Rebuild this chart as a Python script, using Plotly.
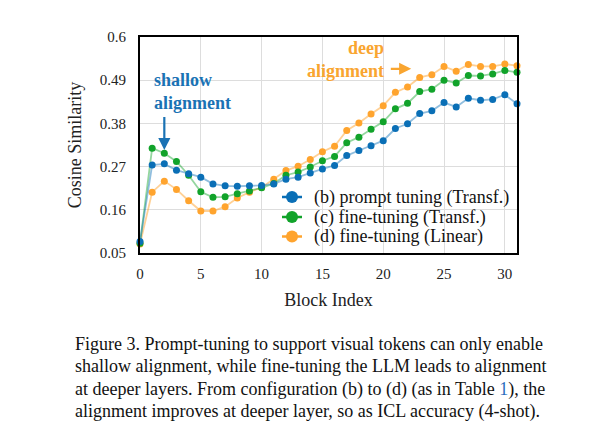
import plotly.graph_objects as go

block_index = list(range(32))
prompt_tuning_transf = [0.079, 0.274, 0.277, 0.261, 0.252, 0.243, 0.226, 0.221, 0.220, 0.221,
                        0.222, 0.226, 0.238, 0.243, 0.254, 0.264, 0.273, 0.298, 0.311, 0.323,
                        0.336, 0.367, 0.379, 0.405, 0.412, 0.433, 0.422, 0.444, 0.439, 0.441,
                        0.453, 0.430]
fine_tuning_transf = [0.075, 0.317, 0.304, 0.283, 0.248, 0.206, 0.192, 0.193, 0.201, 0.208,
                      0.216, 0.227, 0.248, 0.256, 0.269, 0.285, 0.296, 0.331, 0.345, 0.365,
                      0.384, 0.417, 0.431, 0.461, 0.467, 0.490, 0.483, 0.502, 0.501, 0.506,
                      0.515, 0.510]
fine_tuning_linear = [0.073, 0.205, 0.233, 0.212, 0.183, 0.157, 0.157, 0.168, 0.190, 0.205,
                      0.217, 0.238, 0.260, 0.271, 0.288, 0.308, 0.322, 0.362, 0.381, 0.404,
                      0.425, 0.459, 0.473, 0.497, 0.504, 0.525, 0.513, 0.530, 0.525, 0.525,
                      0.531, 0.527]
series_names = ["(b) prompt tuning (Transf.)", "(c) fine-tuning (Transf.)", "(d) fine-tuning (Linear)"]
x_ticks = [0, 5, 10, 15, 20, 25, 30]
y_ticks = [0.05, 0.16, 0.27, 0.38, 0.49, 0.6]
y_tick_labels = ["0.05", "0.16", "0.27", "0.38", "0.49", "0.6"]

colors = ["#0a6fb6", "#11a32a", "#ffa42e"]
line_colors = ["rgba(10,111,182,0.45)", "rgba(17,163,42,0.45)", "rgba(255,164,46,0.5)"]
SERIF = "Liberation Serif, Times New Roman, serif"

# plot-area geometry (pixels) used to place the hand-drawn legend and caption
L, R, T, B = 140, 517, 37, 253
W, H = R - L, B - T


def px_x(px):
    return (px - L) / W


def px_y(py):
    return (B - py) / H


fig = go.Figure()
data = [prompt_tuning_transf, fine_tuning_transf, fine_tuning_linear]
for idx in [2, 1, 0]:
    fig.add_trace(go.Scatter(
        x=block_index, y=data[idx], mode="lines+markers", name=series_names[idx],
        line=dict(color=line_colors[idx], width=1.8),
        marker=dict(color=colors[idx], size=7),
        showlegend=False, cliponaxis=False))

# legend (drawn manually for tight row spacing)
legend_rows = [197, 217, 236.5]
for idx, py in enumerate(legend_rows):
    fig.add_shape(type="line", xref="paper", yref="paper", x0=px_x(282), x1=px_x(302),
                  y0=px_y(py), y1=px_y(py), line=dict(color=colors[idx], width=2.5))
    fig.add_shape(type="circle", xref="paper", yref="paper", xsizemode="pixel",
                  ysizemode="pixel", xanchor=px_x(292), yanchor=px_y(py),
                  x0=-6, x1=6, y0=-6, y1=6, fillcolor=colors[idx],
                  line=dict(color=colors[idx], width=0))
    fig.add_annotation(x=px_x(312), y=px_y(py), xref="paper", yref="paper",
                       text=series_names[idx], showarrow=False, xanchor="left",
                       yanchor="middle", font=dict(family=SERIF, size=18, color="#111"))

fig.add_annotation(x=1.0, y=0.462, xref="x", yref="y", text="<b>shallow<br>alignment</b>",
                   showarrow=False, xanchor="left", yanchor="middle", align="left",
                   font=dict(family=SERIF, size=18, color="#1a72b4"))
fig.add_annotation(x=2, y=0.312, ax=2, ay=0.40, xref="x", yref="y", axref="x", ayref="y",
                   text="", showarrow=True, arrowhead=2, arrowsize=1.1, arrowwidth=2.2,
                   arrowcolor="#1a72b4")
fig.add_annotation(x=20.2, y=0.543, xref="x", yref="y", text="<b>deep<br>alignment</b>",
                   showarrow=False, xanchor="right", yanchor="middle", align="right",
                   font=dict(family=SERIF, size=18, color="#f9a530"))
fig.add_annotation(x=22.3, y=0.519, ax=20.5, ay=0.519, xref="x", yref="y", axref="x", ayref="y",
                   text="", showarrow=True, arrowhead=2, arrowsize=1.1, arrowwidth=2.2,
                   arrowcolor="#f9a530")

caption_lines = [
    "Figure 3. Prompt-tuning to support visual tokens can only enable",
    "shallow alignment, while fine-tuning the LLM leads to alignment",
    "at deeper layers. From configuration (b) to (d) (as in Table <span style='color:#2a6ebb'>1</span>), the",
    "alignment improves at deeper layer, so as ICL accuracy (4-shot).",
]
caption_y = [344, 366.5, 389, 411]
for line, py in zip(caption_lines, caption_y):
    fig.add_annotation(x=px_x(73), y=px_y(py), xref="paper", yref="paper",
                       text=line, showarrow=False, xanchor="left", yanchor="middle",
                       font=dict(family=SERIF, size=18, color="#111"))

fig.update_layout(
    width=603, height=448, margin=dict(l=L, r=603 - R, t=T, b=448 - B),
    paper_bgcolor="white", plot_bgcolor="white", showlegend=False,
    font=dict(family=SERIF, size=15, color="#222"),
    xaxis=dict(range=[0, 31], tickvals=x_ticks, showgrid=True, gridcolor="#dddddd",
               gridwidth=1, zeroline=False, showline=True, linecolor="black", linewidth=1.8,
               mirror=True, ticks="", ticklabelstandoff=6,
               title=dict(text="Block Index", font=dict(size=18), standoff=12),
               tickfont=dict(size=15)),
    yaxis=dict(range=[0.05, 0.6], tickvals=y_ticks, ticktext=y_tick_labels, showgrid=True,
               gridcolor="#dddddd", gridwidth=1, zeroline=False, showline=True,
               linecolor="black", linewidth=1.8, mirror=True, ticks="", ticklabelstandoff=9,
               title=dict(text="Cosine Similarity", font=dict(size=18), standoff=14),
               tickfont=dict(size=15)),
)
fig.write_html("out.html")
